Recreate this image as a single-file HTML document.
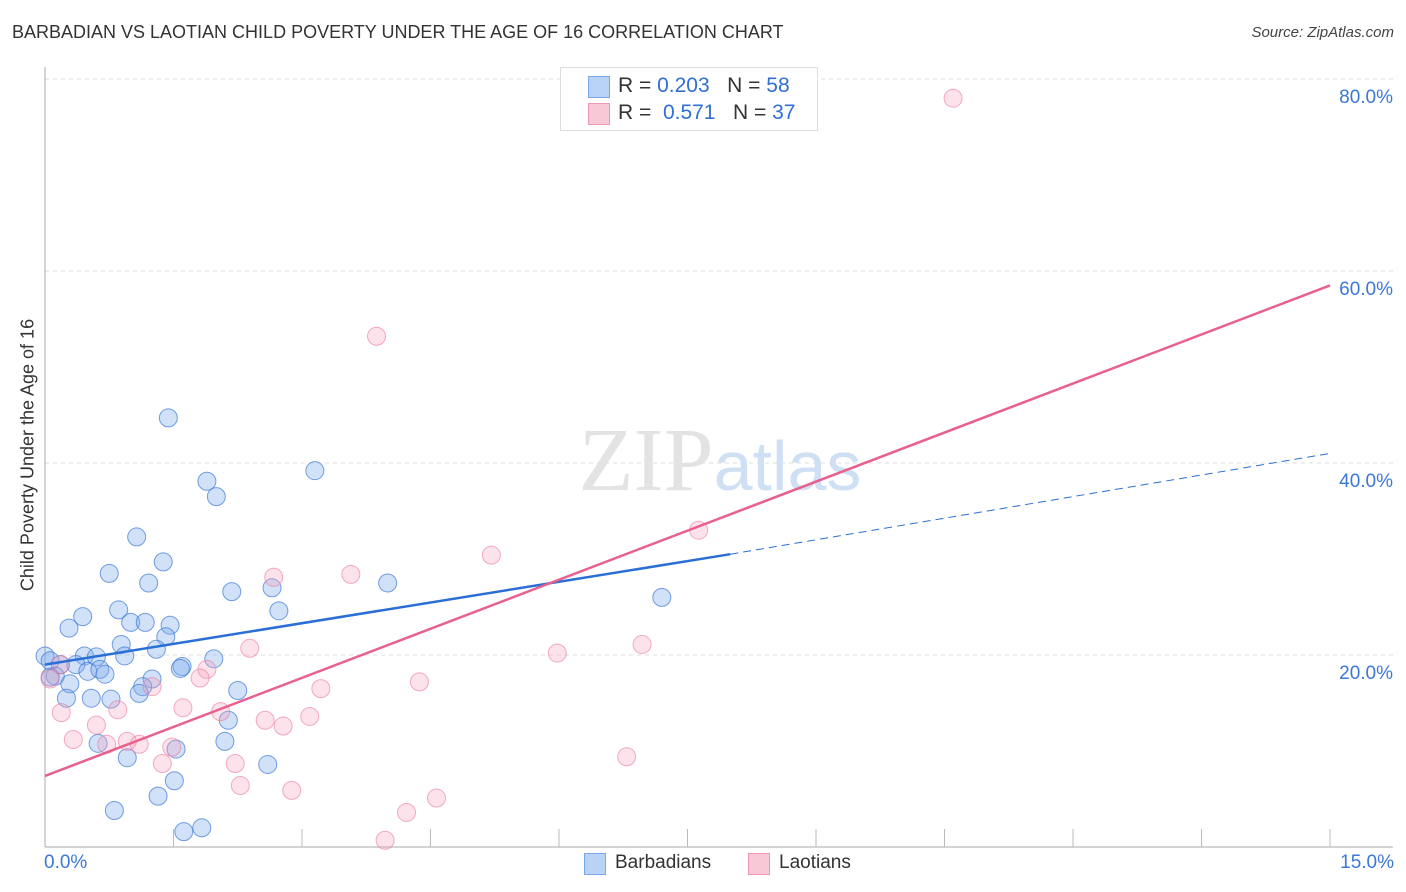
<!DOCTYPE html>
<html><head><meta charset="utf-8"><style>
body{margin:0;background:#fff;font-family:"Liberation Sans",sans-serif;}
#wrap{position:relative;width:1406px;height:892px;overflow:hidden;}
.t{position:absolute;white-space:nowrap;}
</style></head><body>
<div id="wrap">
<div class="t" style="left:12px;top:22px;font-size:18px;color:#333;">BARBADIAN VS LAOTIAN CHILD POVERTY UNDER THE AGE OF 16 CORRELATION CHART</div>
<div class="t" style="right:12px;top:24px;font-size:15px;color:#444;font-style:italic;">Source: ZipAtlas.com</div>
<div class="t" style="left:28px;top:455px;font-size:18px;color:#333;transform:translate(-50%,-50%) rotate(-90deg);">Child Poverty Under the Age of 16</div>
<svg id="svg" width="1406" height="892" style="position:absolute;left:0;top:0"></svg>
<div style="position:absolute;left:560px;top:67px;width:256px;height:62px;border:1px solid #ddd;background:#fff;">
<div style="position:absolute;left:27px;top:8px;width:20px;height:20px;background:#b8d3f5;border:1px solid #7aa7e6;"></div>
<div class="t" style="left:57px;top:6px;font-size:21px;color:#333;">R = <span style="color:#2f6fd6">0.203</span>&nbsp;&nbsp; N = <span style="color:#2f6fd6">58</span></div>
<div style="position:absolute;left:27px;top:35px;width:20px;height:20px;background:#f9c8d6;border:1px solid #ee98b2;"></div>
<div class="t" style="left:57px;top:33px;font-size:21px;color:#333;">R = &nbsp;<span style="color:#2f6fd6">0.571</span>&nbsp;&nbsp; N = <span style="color:#2f6fd6">37</span></div>
</div>
<div class="t" style="left:44px;top:852px;font-size:19px;color:#3b78d8;">0.0%</div>
<div class="t" style="right:12px;top:852px;font-size:19px;color:#3b78d8;">15.0%</div>
<div style="position:absolute;left:584px;top:853px;width:20px;height:20px;background:#b8d3f5;border:1px solid #7aa7e6;"></div>
<div class="t" style="left:615px;top:852px;font-size:19px;color:#333;">Barbadians</div>
<div style="position:absolute;left:748px;top:853px;width:20px;height:20px;background:#f9c8d6;border:1px solid #ee98b2;"></div>
<div class="t" style="left:779px;top:852px;font-size:19px;color:#333;">Laotians</div>
</div>
<script>
const blueX=[1.44,3.15,1.89,2.0,1.07,1.38,0.75,1.21,4.0,2.18,2.65,7.2,0.44,0.86,2.73,1.0,1.17,0.28,1.46,1.41,0.89,1.3,0.93,0.46,0.6,0.0,0.06,1.97,0.36,0.18,1.6,1.58,0.5,0.64,0.7,0.12,0.06,0.29,1.25,2.25,1.14,1.1,0.54,0.77,0.25,2.14,0.62,1.53,2.1,0.96,2.6,1.51,1.32,0.81,1.62,1.83];
const blueY=[44.7,39.2,38.1,36.5,32.3,29.7,28.5,27.5,27.5,26.6,27.0,26.0,24.0,24.7,24.6,23.4,23.4,22.8,23.1,21.9,21.1,20.6,19.9,19.9,19.8,19.9,19.4,19.6,19.0,19.0,18.8,18.6,18.3,18.5,18.0,17.8,17.7,17.0,17.5,16.3,16.7,16.0,15.5,15.4,15.5,13.2,10.8,10.2,11.0,9.3,8.6,6.9,5.3,3.8,1.6,2.0];
const pinkX=[10.6,3.87,7.63,5.21,3.57,2.67,6.97,5.98,2.39,1.89,1.81,0.18,1.25,3.22,4.37,1.61,0.85,0.19,2.05,3.09,2.57,0.6,2.78,0.33,0.96,1.1,0.72,1.48,1.37,2.22,6.79,2.28,2.88,4.57,4.22,3.97,0.06];
const pinkY=[78.0,53.2,33.0,30.4,28.4,28.1,21.1,20.2,20.7,18.5,17.6,19.0,16.7,16.5,17.2,14.5,14.3,14.0,14.1,13.6,13.2,12.7,12.6,11.2,11.0,10.7,10.7,10.4,8.7,8.7,9.4,6.4,5.9,5.1,3.6,0.7,17.5];
const blueLine=[0,19.0,8.0,30.5,15,41.0];
const pinkLine=[0,7.4,15,58.5];
const yTicks=[20,40,60,80];
const X0=45,X1=1330,Y0=847,YS=192/20;
const sx=v=>X0+(v/15)*(X1-X0), sy=v=>Y0-v*YS;
const svg=document.getElementById('svg');const NS='http://www.w3.org/2000/svg';
function mk(t,a,name){const e=document.createElementNS(NS,t);for(const k in a)e.setAttribute(k,a[k]);


svg.appendChild(e);return e;}
yTicks.forEach(v=>{mk('line',{x1:45,x2:1393,y1:sy(v),y2:sy(v),stroke:'#ddd','stroke-dasharray':'4,4'},'gridline');
const t=mk('text',{x:1393,y:sy(v)+24,'text-anchor':'end','font-size':19,fill:'#3b78d8','font-family':'Liberation Sans'},'y-tick-label');t.textContent=v.toFixed(1)+'%';});
mk('line',{x1:45,x2:45,y1:67,y2:847,stroke:'#aaa'},'y-axis');
mk('line',{x1:45,x2:1393,y1:847,y2:847,stroke:'#aaa'},'x-axis');
for(let i=1;i<=10;i++){const x=X0+i*(X1-X0)/10;mk('line',{x1:x,x2:x,y1:829,y2:847,stroke:'#bbb'},'x-tick');}
const wm=mk('text',{x:720,y:490,'text-anchor':'middle','font-size':90,fill:'#e3e3e3','font-family':'Liberation Serif'},'watermark');
wm.innerHTML='ZIP<tspan fill="#cfe0f5" font-family="Liberation Sans" font-size="70">atlas</tspan>';
blueX.forEach((v,i)=>mk('circle',{cx:sx(v),cy:sy(blueY[i]),r:9,fill:'rgba(120,170,235,0.35)',stroke:'rgba(60,120,215,0.7)','stroke-width':1},'barbadian-point'));
pinkX.forEach((v,i)=>mk('circle',{cx:sx(v),cy:sy(pinkY[i]),r:9,fill:'rgba(245,160,185,0.3)',stroke:'rgba(235,120,155,0.6)','stroke-width':1},'laotian-point'));
mk('line',{x1:sx(blueLine[0]),y1:sy(blueLine[1]),x2:sx(blueLine[2]),y2:sy(blueLine[3]),stroke:'#2a6fd6','stroke-width':2.5},'barbadian-trendline');
mk('line',{x1:sx(blueLine[2]),y1:sy(blueLine[3]),x2:sx(blueLine[4]),y2:sy(blueLine[5]),stroke:'#2a6fd6','stroke-width':1,'stroke-dasharray':'8,5'},'barbadian-trendline-extension');
mk('line',{x1:sx(pinkLine[0]),y1:sy(pinkLine[1]),x2:sx(pinkLine[2]),y2:sy(pinkLine[3]),stroke:'#e8608e','stroke-width':2.5},'laotian-trendline');
</script>
</body></html>
